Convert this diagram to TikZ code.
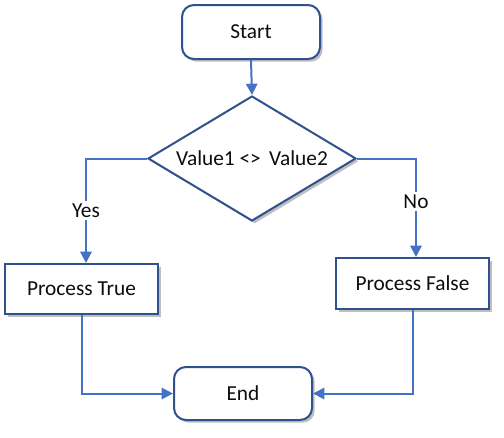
\documentclass[tikz,border=0pt]{standalone}
\usepackage{fontspec}
\setmainfont{Carlito}
\usetikzlibrary{shapes.geometric,arrows.meta,shadows}
\definecolor{bordc}{HTML}{2F528F}
\definecolor{arrc}{HTML}{4472C4}
\definecolor{txtc}{HTML}{0D0D0D}
\begin{document}
\begin{tikzpicture}[x=0.75pt,y=-0.75pt,
  font=\fontsize{16}{18}\selectfont, text=txtc,
  shad/.style={drop shadow={shadow xshift=2pt,shadow yshift=-2pt,opacity=0.25,fill=black}},
  term/.style={draw=bordc,line width=1.5pt,fill=white,rounded corners=9pt,inner sep=0pt,shad},
  procbox/.style={draw=bordc,line width=1.5pt,fill=white,inner sep=0pt,shad},
  decis/.style={diamond,shape aspect=1.664,draw=bordc,line width=1.5pt,fill=white,inner sep=0pt,shad},
  conn/.style={draw=arrc,line width=1.5pt,-{Triangle[length=8.5pt,width=8.5pt]}},
  lbl/.style={fill=white,inner sep=2pt}]
\useasboundingbox (0,0) rectangle (504,437);
\node[term,minimum width=138*0.75pt,minimum height=54*0.75pt] (start) at (251,32) {Start};
\node[decis,minimum width=208*0.75pt,minimum height=125*0.75pt] (dec) at (252,158.5) {Value1 <>\ \,Value2};
\node[procbox,minimum width=153*0.75pt,minimum height=50*0.75pt] (pt) at (81.5,289) {Process True};
\node[procbox,minimum width=153*0.75pt,minimum height=51*0.75pt] (pf) at (412.5,283.5) {Process False};
\node[term,minimum width=138*0.75pt,minimum height=53*0.75pt] (end) at (243,393.5) {End};
\coordinate (yx) at (86,0);
\coordinate (nx) at (416,0);
\draw[conn] (start.south) -- (dec.north);
\draw[conn] (dec.west) -| node[lbl,pos=0.75] {Yes} (yx |- pt.north);
\draw[conn] (dec.east) -| node[lbl,pos=0.72] {No} (nx |- pf.north);
\draw[conn] (pt.south) |- (end.west);
\draw[conn] (pf.south) |- (end.east);
\end{tikzpicture}
\end{document}
